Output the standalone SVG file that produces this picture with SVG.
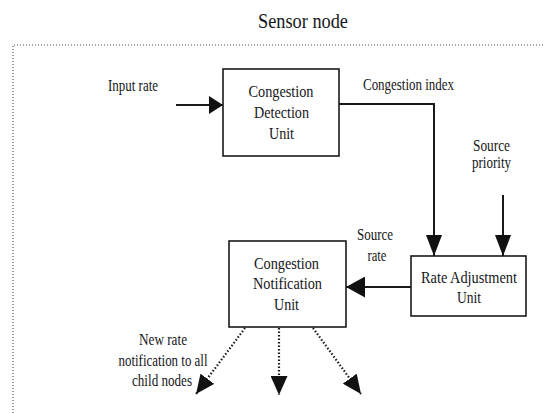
<svg xmlns="http://www.w3.org/2000/svg" width="544" height="413" viewBox="0 0 544 413">
<style>
text{font-family:"Liberation Serif","Times New Roman",serif;fill:#161620;text-anchor:middle}
.t{font-size:16px}
.box{fill:#fff;stroke:#1a1a1a;stroke-width:1.6}
.ln{fill:none;stroke:#1a1a1a;stroke-width:2}
.dot{fill:none;stroke:#1a1a1a;stroke-width:2.2;stroke-dasharray:1.5,2}
</style>
<defs>
<marker id="ah1" markerUnits="userSpaceOnUse" viewBox="0 0 14 18" refX="14" refY="9" markerWidth="14" markerHeight="18" orient="auto">
<path d="M0,0 L14,9 L0,18 Z" fill="#111"/>
</marker>
<marker id="ah2" markerUnits="userSpaceOnUse" viewBox="0 0 21 16" refX="21" refY="8" markerWidth="21" markerHeight="16" orient="auto">
<path d="M0,0 L21,8 L0,16 Z" fill="#111"/>
</marker>
<marker id="ah3" markerUnits="userSpaceOnUse" viewBox="0 0 19 21" refX="19" refY="10.5" markerWidth="19" markerHeight="21" orient="auto">
<path d="M0,0 L19,10.5 L0,21 Z" fill="#111"/>
</marker>
<marker id="ahd" markerUnits="userSpaceOnUse" viewBox="0 0 19 17" refX="19" refY="8.5" markerWidth="19" markerHeight="17" orient="auto">
<path d="M0,0 L19,8.5 L0,17 Z" fill="#111"/>
</marker>
</defs>
<rect width="544" height="413" fill="#fff"/>
<text x="303" y="28" style="font-size:22px" textLength="90" lengthAdjust="spacingAndGlyphs">Sensor node</text>
<path d="M13,413 V45 H544" fill="none" stroke="#555" stroke-width="1.2" stroke-dasharray="1,2"/>
<g id="labels">
<text class="t" x="133" y="91" textLength="50" lengthAdjust="spacingAndGlyphs">Input rate</text>
<text class="t" x="408.5" y="90" textLength="91" lengthAdjust="spacingAndGlyphs">Congestion index</text>
<text class="t" x="491.5" y="151" textLength="37" lengthAdjust="spacingAndGlyphs">Source</text>
<text class="t" x="491.5" y="168" textLength="39" lengthAdjust="spacingAndGlyphs">priority</text>
<text class="t" x="375" y="240" textLength="36" lengthAdjust="spacingAndGlyphs">Source</text>
<text class="t" x="377" y="261" textLength="19" lengthAdjust="spacingAndGlyphs">rate</text>
<text class="t" x="163" y="345" textLength="48" lengthAdjust="spacingAndGlyphs">New rate</text>
<text class="t" x="163" y="366" textLength="89" lengthAdjust="spacingAndGlyphs">notification to all</text>
<text class="t" x="162" y="386" textLength="60" lengthAdjust="spacingAndGlyphs">child nodes</text>
</g>
<g id="cdu">
<rect class="box" x="223" y="69" width="116" height="87"/>
<text class="t" x="281" y="97" textLength="65" lengthAdjust="spacingAndGlyphs">Congestion</text>
<text class="t" x="281.5" y="118" textLength="55" lengthAdjust="spacingAndGlyphs">Detection</text>
<text class="t" x="281.5" y="139" textLength="25" lengthAdjust="spacingAndGlyphs">Unit</text>
</g>
<g id="rau">
<rect class="box" x="411" y="256" width="115" height="60"/>
<text class="t" x="469" y="283" textLength="96" lengthAdjust="spacingAndGlyphs">Rate Adjustment</text>
<text class="t" x="469" y="303" textLength="24" lengthAdjust="spacingAndGlyphs">Unit</text>
</g>
<g id="cnu">
<rect class="box" x="229" y="241" width="117" height="86"/>
<text class="t" x="286.5" y="269" textLength="65" lengthAdjust="spacingAndGlyphs">Congestion</text>
<text class="t" x="287.5" y="289" textLength="69" lengthAdjust="spacingAndGlyphs">Notification</text>
<text class="t" x="286.5" y="310" textLength="25" lengthAdjust="spacingAndGlyphs">Unit</text>
</g>
<g id="connectors">
<path class="ln" d="M176,105 H223" stroke-width="3" marker-end="url(#ah1)"/>
<path class="ln" d="M339,104 H434 V256" marker-end="url(#ah2)"/>
<path class="ln" d="M503,195 V256" stroke-width="2.5" marker-end="url(#ah2)"/>
<path class="ln" d="M411,287 H346" stroke-width="2.5" marker-end="url(#ah3)"/>
<path class="dot" d="M245,328 L196,394" marker-end="url(#ahd)"/>
<path class="dot" d="M279,328 V395" marker-end="url(#ahd)"/>
<path class="dot" d="M313,328 L361,394" marker-end="url(#ahd)"/>
</g>
</svg>
